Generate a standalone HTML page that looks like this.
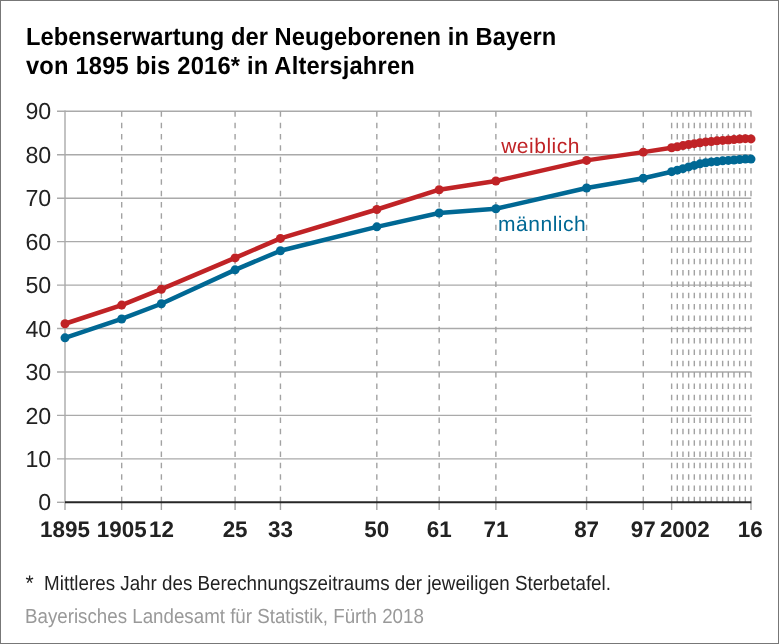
<!DOCTYPE html>
<html><head><meta charset="utf-8"><style>
html,body{margin:0;padding:0;background:#fff;}
#c{position:relative;width:779px;height:644px;overflow:hidden;background:#fff;}
#c svg{position:absolute;left:0;top:0;will-change:transform;}
#b{position:absolute;left:0;top:0;width:777px;height:642px;border:1px solid #777;}
text{font-family:"Liberation Sans",sans-serif;text-rendering:geometricPrecision;}
.ti{font-weight:bold;font-size:23.7px;fill:#000;}
.yl{font-size:23.2px;fill:#222222;}
.xl{font-size:22.4px;font-weight:bold;fill:#222222;}
.lab{font-size:21px;}
.fn{font-size:18.8px;}
.ast{font-size:21px;}
.src{font-size:18.74px;}
</style></head><body>
<div id="c">
<svg width="779" height="644" viewBox="0 0 779 644">
<line x1="57" y1="458.86" x2="751.3" y2="458.86" stroke="#aaaaaa" stroke-width="1.4"/>
<line x1="57" y1="415.41" x2="751.3" y2="415.41" stroke="#aaaaaa" stroke-width="1.4"/>
<line x1="57" y1="371.97" x2="751.3" y2="371.97" stroke="#aaaaaa" stroke-width="1.4"/>
<line x1="57" y1="328.52" x2="751.3" y2="328.52" stroke="#aaaaaa" stroke-width="1.4"/>
<line x1="57" y1="285.08" x2="751.3" y2="285.08" stroke="#aaaaaa" stroke-width="1.4"/>
<line x1="57" y1="241.63" x2="751.3" y2="241.63" stroke="#aaaaaa" stroke-width="1.4"/>
<line x1="57" y1="198.19" x2="751.3" y2="198.19" stroke="#aaaaaa" stroke-width="1.4"/>
<line x1="57" y1="154.74" x2="751.3" y2="154.74" stroke="#aaaaaa" stroke-width="1.4"/>
<line x1="57" y1="111.30" x2="751.3" y2="111.30" stroke="#aaaaaa" stroke-width="1.4"/>
<line x1="57" y1="502.30" x2="65" y2="502.30" stroke="#aaaaaa" stroke-width="1.4"/>
<line x1="121.69" y1="111.30" x2="121.69" y2="502.30" stroke="#a2a2a2" stroke-width="1.4" stroke-dasharray="5.5 5.84"/>
<line x1="161.38" y1="111.30" x2="161.38" y2="502.30" stroke="#a2a2a2" stroke-width="1.4" stroke-dasharray="5.5 5.84"/>
<line x1="235.08" y1="111.30" x2="235.08" y2="502.30" stroke="#a2a2a2" stroke-width="1.4" stroke-dasharray="5.5 5.84"/>
<line x1="280.44" y1="111.30" x2="280.44" y2="502.30" stroke="#a2a2a2" stroke-width="1.4" stroke-dasharray="5.5 5.84"/>
<line x1="376.82" y1="111.30" x2="376.82" y2="502.30" stroke="#a2a2a2" stroke-width="1.4" stroke-dasharray="5.5 5.84"/>
<line x1="439.18" y1="111.30" x2="439.18" y2="502.30" stroke="#a2a2a2" stroke-width="1.4" stroke-dasharray="5.5 5.84"/>
<line x1="495.88" y1="111.30" x2="495.88" y2="502.30" stroke="#a2a2a2" stroke-width="1.4" stroke-dasharray="5.5 5.84"/>
<line x1="586.59" y1="111.30" x2="586.59" y2="502.30" stroke="#a2a2a2" stroke-width="1.4" stroke-dasharray="5.5 5.84"/>
<line x1="643.28" y1="111.30" x2="643.28" y2="502.30" stroke="#a2a2a2" stroke-width="1.4" stroke-dasharray="5.5 5.84"/>
<line x1="671.63" y1="111.30" x2="671.63" y2="502.30" stroke="#a2a2a2" stroke-width="1.4" stroke-dasharray="5.5 5.84"/>
<line x1="677.30" y1="111.30" x2="677.30" y2="502.30" stroke="#a2a2a2" stroke-width="1.4" stroke-dasharray="5.5 5.84"/>
<line x1="682.97" y1="111.30" x2="682.97" y2="502.30" stroke="#a2a2a2" stroke-width="1.4" stroke-dasharray="5.5 5.84"/>
<line x1="688.64" y1="111.30" x2="688.64" y2="502.30" stroke="#a2a2a2" stroke-width="1.4" stroke-dasharray="5.5 5.84"/>
<line x1="694.31" y1="111.30" x2="694.31" y2="502.30" stroke="#a2a2a2" stroke-width="1.4" stroke-dasharray="5.5 5.84"/>
<line x1="699.98" y1="111.30" x2="699.98" y2="502.30" stroke="#a2a2a2" stroke-width="1.4" stroke-dasharray="5.5 5.84"/>
<line x1="705.64" y1="111.30" x2="705.64" y2="502.30" stroke="#a2a2a2" stroke-width="1.4" stroke-dasharray="5.5 5.84"/>
<line x1="711.31" y1="111.30" x2="711.31" y2="502.30" stroke="#a2a2a2" stroke-width="1.4" stroke-dasharray="5.5 5.84"/>
<line x1="716.98" y1="111.30" x2="716.98" y2="502.30" stroke="#a2a2a2" stroke-width="1.4" stroke-dasharray="5.5 5.84"/>
<line x1="722.65" y1="111.30" x2="722.65" y2="502.30" stroke="#a2a2a2" stroke-width="1.4" stroke-dasharray="5.5 5.84"/>
<line x1="728.32" y1="111.30" x2="728.32" y2="502.30" stroke="#a2a2a2" stroke-width="1.4" stroke-dasharray="5.5 5.84"/>
<line x1="733.99" y1="111.30" x2="733.99" y2="502.30" stroke="#a2a2a2" stroke-width="1.4" stroke-dasharray="5.5 5.84"/>
<line x1="739.66" y1="111.30" x2="739.66" y2="502.30" stroke="#a2a2a2" stroke-width="1.4" stroke-dasharray="5.5 5.84"/>
<line x1="745.33" y1="111.30" x2="745.33" y2="502.30" stroke="#a2a2a2" stroke-width="1.4" stroke-dasharray="5.5 5.84"/>
<line x1="751.00" y1="111.30" x2="751.00" y2="502.30" stroke="#a2a2a2" stroke-width="1.4" stroke-dasharray="5.5 5.84"/>
<line x1="121.69" y1="502.30" x2="121.69" y2="510" stroke="#a2a2a2" stroke-width="1.4"/>
<line x1="161.38" y1="502.30" x2="161.38" y2="510" stroke="#a2a2a2" stroke-width="1.4"/>
<line x1="235.08" y1="502.30" x2="235.08" y2="510" stroke="#a2a2a2" stroke-width="1.4"/>
<line x1="280.44" y1="502.30" x2="280.44" y2="510" stroke="#a2a2a2" stroke-width="1.4"/>
<line x1="376.82" y1="502.30" x2="376.82" y2="510" stroke="#a2a2a2" stroke-width="1.4"/>
<line x1="439.18" y1="502.30" x2="439.18" y2="510" stroke="#a2a2a2" stroke-width="1.4"/>
<line x1="495.88" y1="502.30" x2="495.88" y2="510" stroke="#a2a2a2" stroke-width="1.4"/>
<line x1="586.59" y1="502.30" x2="586.59" y2="510" stroke="#a2a2a2" stroke-width="1.4"/>
<line x1="643.28" y1="502.30" x2="643.28" y2="510" stroke="#a2a2a2" stroke-width="1.4"/>
<line x1="671.63" y1="502.30" x2="671.63" y2="510" stroke="#a2a2a2" stroke-width="1.4"/>
<line x1="751.00" y1="502.30" x2="751.00" y2="510" stroke="#a2a2a2" stroke-width="1.4"/>
<line x1="65" y1="110.4" x2="65" y2="510" stroke="#aaaaaa" stroke-width="1.4"/>
<line x1="65" y1="502.30" x2="751.3" y2="502.30" stroke="#262626" stroke-width="2"/>
<polyline points="65.00,337.82 121.69,318.96 161.38,303.76 235.08,269.87 280.44,250.76 376.82,226.86 439.18,212.96 495.88,208.79 586.59,187.98 643.28,178.20 671.63,171.69 677.30,170.17 682.97,168.65 688.64,166.91 694.31,165.39 699.98,163.87 705.64,162.78 711.31,161.91 716.98,161.48 722.65,160.83 728.32,160.39 733.99,159.96 739.66,159.52 745.33,159.09 751.00,159.09" fill="none" stroke="#006894" stroke-width="4.5" stroke-linejoin="round"/>
<circle cx="65.00" cy="337.82" r="4.5" fill="#006894"/>
<circle cx="121.69" cy="318.96" r="4.5" fill="#006894"/>
<circle cx="161.38" cy="303.76" r="4.5" fill="#006894"/>
<circle cx="235.08" cy="269.87" r="4.5" fill="#006894"/>
<circle cx="280.44" cy="250.76" r="4.5" fill="#006894"/>
<circle cx="376.82" cy="226.86" r="4.5" fill="#006894"/>
<circle cx="439.18" cy="212.96" r="4.5" fill="#006894"/>
<circle cx="495.88" cy="208.79" r="4.5" fill="#006894"/>
<circle cx="586.59" cy="187.98" r="4.5" fill="#006894"/>
<circle cx="643.28" cy="178.20" r="4.5" fill="#006894"/>
<circle cx="671.63" cy="171.69" r="4.5" fill="#006894"/>
<circle cx="677.30" cy="170.17" r="4.5" fill="#006894"/>
<circle cx="682.97" cy="168.65" r="4.5" fill="#006894"/>
<circle cx="688.64" cy="166.91" r="4.5" fill="#006894"/>
<circle cx="694.31" cy="165.39" r="4.5" fill="#006894"/>
<circle cx="699.98" cy="163.87" r="4.5" fill="#006894"/>
<circle cx="705.64" cy="162.78" r="4.5" fill="#006894"/>
<circle cx="711.31" cy="161.91" r="4.5" fill="#006894"/>
<circle cx="716.98" cy="161.48" r="4.5" fill="#006894"/>
<circle cx="722.65" cy="160.83" r="4.5" fill="#006894"/>
<circle cx="728.32" cy="160.39" r="4.5" fill="#006894"/>
<circle cx="733.99" cy="159.96" r="4.5" fill="#006894"/>
<circle cx="739.66" cy="159.52" r="4.5" fill="#006894"/>
<circle cx="745.33" cy="159.09" r="4.5" fill="#006894"/>
<circle cx="751.00" cy="159.09" r="4.5" fill="#006894"/>
<polyline points="65.00,323.74 121.69,305.06 161.38,289.21 235.08,257.93 280.44,238.38 376.82,209.48 439.18,189.72 495.88,180.98 586.59,160.39 643.28,152.14 671.63,147.79 677.30,146.71 682.97,145.62 688.64,144.54 694.31,143.67 699.98,142.80 705.64,141.93 711.31,141.49 716.98,140.84 722.65,140.41 728.32,139.97 733.99,139.54 739.66,139.10 745.33,138.67 751.00,138.89" fill="none" stroke="#c02326" stroke-width="4.5" stroke-linejoin="round"/>
<circle cx="65.00" cy="323.74" r="4.5" fill="#c02326"/>
<circle cx="121.69" cy="305.06" r="4.5" fill="#c02326"/>
<circle cx="161.38" cy="289.21" r="4.5" fill="#c02326"/>
<circle cx="235.08" cy="257.93" r="4.5" fill="#c02326"/>
<circle cx="280.44" cy="238.38" r="4.5" fill="#c02326"/>
<circle cx="376.82" cy="209.48" r="4.5" fill="#c02326"/>
<circle cx="439.18" cy="189.72" r="4.5" fill="#c02326"/>
<circle cx="495.88" cy="180.98" r="4.5" fill="#c02326"/>
<circle cx="586.59" cy="160.39" r="4.5" fill="#c02326"/>
<circle cx="643.28" cy="152.14" r="4.5" fill="#c02326"/>
<circle cx="671.63" cy="147.79" r="4.5" fill="#c02326"/>
<circle cx="677.30" cy="146.71" r="4.5" fill="#c02326"/>
<circle cx="682.97" cy="145.62" r="4.5" fill="#c02326"/>
<circle cx="688.64" cy="144.54" r="4.5" fill="#c02326"/>
<circle cx="694.31" cy="143.67" r="4.5" fill="#c02326"/>
<circle cx="699.98" cy="142.80" r="4.5" fill="#c02326"/>
<circle cx="705.64" cy="141.93" r="4.5" fill="#c02326"/>
<circle cx="711.31" cy="141.49" r="4.5" fill="#c02326"/>
<circle cx="716.98" cy="140.84" r="4.5" fill="#c02326"/>
<circle cx="722.65" cy="140.41" r="4.5" fill="#c02326"/>
<circle cx="728.32" cy="139.97" r="4.5" fill="#c02326"/>
<circle cx="733.99" cy="139.54" r="4.5" fill="#c02326"/>
<circle cx="739.66" cy="139.10" r="4.5" fill="#c02326"/>
<circle cx="745.33" cy="138.67" r="4.5" fill="#c02326"/>
<circle cx="751.00" cy="138.89" r="4.5" fill="#c02326"/>
<text transform="translate(51.20,510.40) scale(1,1.0)" class="yl" text-anchor="end">0</text>
<text transform="translate(51.20,466.96) scale(1,1.0)" class="yl" text-anchor="end">10</text>
<text transform="translate(51.20,423.51) scale(1,1.0)" class="yl" text-anchor="end">20</text>
<text transform="translate(51.20,380.07) scale(1,1.0)" class="yl" text-anchor="end">30</text>
<text transform="translate(51.20,336.62) scale(1,1.0)" class="yl" text-anchor="end">40</text>
<text transform="translate(51.20,293.18) scale(1,1.0)" class="yl" text-anchor="end">50</text>
<text transform="translate(51.20,249.73) scale(1,1.0)" class="yl" text-anchor="end">60</text>
<text transform="translate(51.20,206.29) scale(1,1.0)" class="yl" text-anchor="end">70</text>
<text transform="translate(51.20,162.84) scale(1,1.0)" class="yl" text-anchor="end">80</text>
<text transform="translate(51.20,119.40) scale(1,1.0)" class="yl" text-anchor="end">90</text>
<text transform="translate(65.00,536.70) scale(1,1.0)" class="xl" text-anchor="middle">1895</text>
<text transform="translate(121.69,536.70) scale(1,1.0)" class="xl" text-anchor="middle">1905</text>
<text transform="translate(161.38,536.70) scale(1,1.0)" class="xl" text-anchor="middle">12</text>
<text transform="translate(235.08,536.70) scale(1,1.0)" class="xl" text-anchor="middle">25</text>
<text transform="translate(280.44,536.70) scale(1,1.0)" class="xl" text-anchor="middle">33</text>
<text transform="translate(376.82,536.70) scale(1,1.0)" class="xl" text-anchor="middle">50</text>
<text transform="translate(439.18,536.70) scale(1,1.0)" class="xl" text-anchor="middle">61</text>
<text transform="translate(495.88,536.70) scale(1,1.0)" class="xl" text-anchor="middle">71</text>
<text transform="translate(586.59,536.70) scale(1,1.0)" class="xl" text-anchor="middle">87</text>
<text transform="translate(643.28,536.70) scale(1,1.0)" class="xl" text-anchor="middle">97</text>
<text transform="translate(684.80,536.70) scale(1,1.0)" class="xl" text-anchor="middle">2002</text>
<text transform="translate(750.20,536.70) scale(1,1.0)" class="xl" text-anchor="middle">16</text>
<text transform="translate(501.20,152.75) scale(1,1.0)" class="lab" fill="#c02326" letter-spacing="0.5">weiblich</text>
<text transform="translate(498.10,230.90) scale(1,1.0)" class="lab" fill="#006894" letter-spacing="0.5">männlich</text>
<text transform="translate(25.90,45.00) scale(1,1.05)" class="ti" letter-spacing="0.06">Lebenserwartung der Neugeborenen in Bayern</text>
<text transform="translate(25.90,73.70) scale(1,1.05)" class="ti" letter-spacing="0.2">von 1895 bis 2016* in Altersjahren</text>
<text transform="translate(25.50,590.30) scale(1,1.0)" class="fn ast" fill="#222222">*</text>
<text transform="translate(44.10,590.00) scale(1,1.09)" class="fn" fill="#222222">Mittleres Jahr des Berechnungszeitraums der jeweiligen Sterbetafel.</text>
<text transform="translate(25.00,622.90) scale(1,1.09)" class="fn src" fill="#999999">Bayerisches Landesamt für Statistik, Fürth 2018</text>
</svg>
<div id="b"></div>
</div>
</body></html>
